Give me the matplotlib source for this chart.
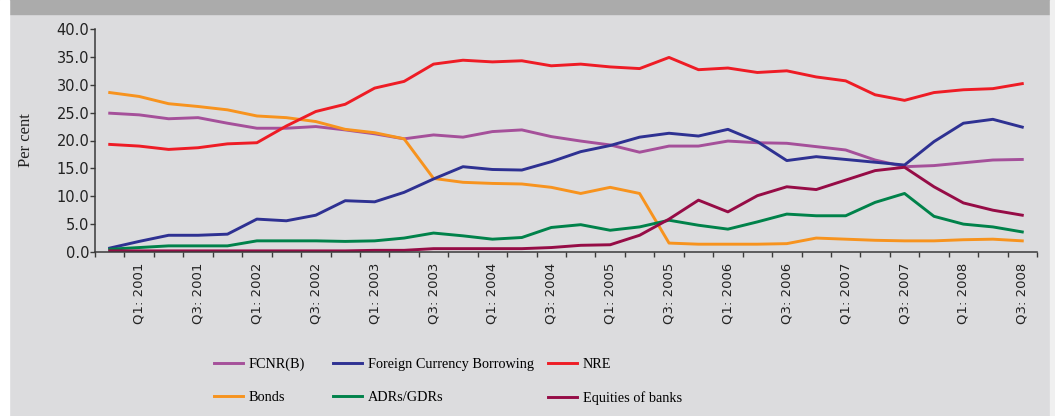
import matplotlib.pyplot as plt
from matplotlib.patches import Rectangle

# quarters: Q4 2000 ... Q3 2008 (32 points)
quarters = ['Q4: 2000'] + [f'Q{q}: {y}' for y in range(2001, 2009) for q in range(1, 5)][:31]

fcnr = [24.9, 24.6, 23.9, 24.1, 23.1, 22.2, 22.2, 22.5, 21.9, 21.2, 20.3, 21.0,
        20.6, 21.6, 21.9, 20.7, 19.9, 19.2, 17.9, 19.0, 19.0, 19.9, 19.6, 19.5,
        18.9, 18.3, 16.5, 15.3, 15.5, 16.0, 16.5, 16.6]
fcb = [0.7, 1.9, 3.0, 3.0, 3.2, 5.9, 5.6, 6.6, 9.2, 9.0, 10.7, 13.1,
       15.3, 14.8, 14.7, 16.2, 18.0, 19.1, 20.6, 21.3, 20.8, 22.0, 19.8, 16.4,
       17.1, 16.6, 16.1, 15.6, 19.8, 23.1, 23.8, 22.4]
nre = [19.3, 19.0, 18.4, 18.7, 19.4, 19.6, 22.6, 25.2, 26.5, 29.4, 30.6, 33.7,
       34.4, 34.1, 34.3, 33.4, 33.7, 33.2, 32.9, 34.9, 32.7, 33.0, 32.2, 32.5,
       31.4, 30.7, 28.2, 27.2, 28.6, 29.1, 29.3, 30.2]
bonds = [28.6, 27.9, 26.6, 26.1, 25.5, 24.4, 24.1, 23.4, 22.0, 21.4, 20.3, 13.2,
         12.5, 12.3, 12.2, 11.6, 10.5, 11.6, 10.5, 1.6, 1.4, 1.4, 1.4, 1.5,
         2.5, 2.3, 2.1, 2.0, 2.0, 2.2, 2.3, 2.0]
adrs = [0.5, 0.8, 1.1, 1.1, 1.1, 2.0, 2.0, 2.0, 1.9, 2.0, 2.5, 3.4,
        2.9, 2.3, 2.6, 4.4, 4.9, 3.9, 4.5, 5.7, 4.8, 4.1, 5.4, 6.8,
        6.5, 6.5, 8.9, 10.5, 6.4, 5.0, 4.5, 3.6]
equities = [0.2, 0.2, 0.2, 0.2, 0.2, 0.2, 0.2, 0.2, 0.2, 0.3, 0.3, 0.6,
            0.6, 0.6, 0.6, 0.8, 1.2, 1.3, 3.0, 5.9, 9.3, 7.2, 10.1, 11.7,
            11.2, 12.9, 14.6, 15.2, 11.7, 8.8, 7.5, 6.6]

bg = '#dcdcde'
W, H = 1055, 416
fig = plt.figure(figsize=(W / 100, H / 100), dpi=100)
fig.patch.set_facecolor(bg)

# grey band on top, white strips at the edges
fig.add_artist(Rectangle((0, 1 - 14 / H), 1, 14 / H, transform=fig.transFigure,
                         color='#ababab', zorder=0))
fig.add_artist(Rectangle((0, 0), 9 / W, 1, transform=fig.transFigure,
                         color='white', zorder=1))
fig.add_artist(Rectangle((1 - 5 / W, 0), 5 / W, 1, transform=fig.transFigure,
                         color='#f0f0f0', zorder=1))

ax = fig.add_axes([95 / W, 1 - 252 / H, 942 / W, 223 / H])
ax.set_facecolor(bg)

x = list(range(1, len(quarters) + 1))
lw = 2.1
l_fcnr, = ax.plot(x, fcnr, color='#a5509a', lw=lw, label='FCNR(B)')
l_bonds, = ax.plot(x, bonds, color='#f7931e', lw=lw, label='Bonds')
l_fcb, = ax.plot(x, fcb, color='#2e3192', lw=lw, label='Foreign Currency Borrowing')
l_adr, = ax.plot(x, adrs, color='#00824a', lw=lw, label='ADRs/GDRs')
l_nre, = ax.plot(x, nre, color='#ee1c25', lw=lw, label='NRE')
l_eq, = ax.plot(x, equities, color='#960c46', lw=lw, label='Equities of banks')

ax.set_xlim(0.5, len(quarters) + 0.5)
ax.set_ylim(0, 40)

for s in ['top', 'right']:
    ax.spines[s].set_visible(False)
for s in ['left', 'bottom']:
    ax.spines[s].set_color('#3a3a3a')
    ax.spines[s].set_linewidth(1.1)

ax.set_yticks(range(0, 41, 5))
ax.set_yticklabels([f'{v:.1f}' for v in range(0, 41, 5)], fontsize=10.5,
                   color='#222222')
ax.tick_params(axis='y', length=3.5, width=1.0, color='#3a3a3a', pad=0.5)

# labels on Q1 and Q3, tick marks on category boundaries
ax.set_xticks(x[1::2])
ax.set_xticklabels(quarters[1::2], rotation=90, fontsize=9.5, color='#222222')
ax.tick_params(axis='x', which='major', length=0, pad=8)
ax.set_xticks([i + 0.5 for i in range(0, len(quarters) + 1)], minor=True)
ax.tick_params(axis='x', which='minor', length=3.5, width=1.0, color='#3a3a3a')

ax.set_ylabel('Per cent', family='Liberation Serif', fontsize=12, color='#222222')
ax.yaxis.set_label_coords(-0.065, 0.5)

# legend in three columns
cols = [([l_fcnr, l_bonds], 214), ([l_fcb, l_adr], 333), ([l_nre, l_eq], 548)]
for hs, px in cols:
    fig.legend(handles=hs, loc='upper left', bbox_to_anchor=(px / W, 1 - 358 / H),
               frameon=False, borderpad=0, borderaxespad=0, handlelength=2.0,
               handletextpad=0.45, labelspacing=1.38,
               prop={'family': 'Liberation Serif', 'size': 10.3})

fig.savefig('out.png', dpi=100, facecolor=bg)
